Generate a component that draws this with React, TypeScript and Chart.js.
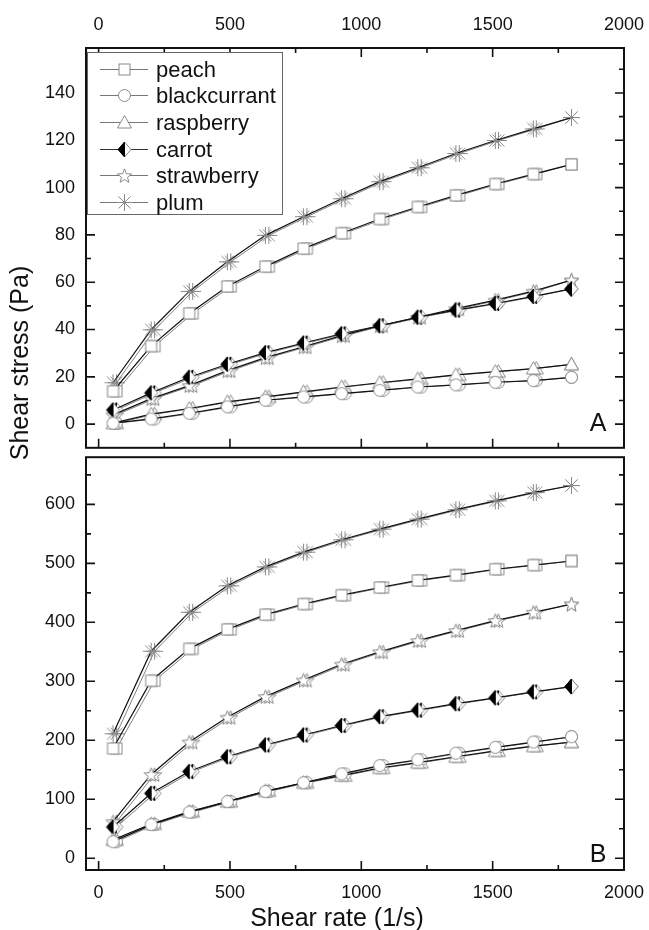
import React, { useEffect, useRef } from 'react';
import { Chart, registerables } from 'chart.js';

Chart.register(...registerables);

const FONT = "'Liberation Sans', Arial, Helvetica, sans-serif";

// Shear rate (1/s): first run and the slightly shifted replicate run
const shearRate = [55, 200, 345, 490, 635, 780, 925, 1070, 1215, 1360, 1510, 1655, 1800];
const shearRateRep = [68, 213, 358, 503, 648, 793, 938, 1083, 1228, 1373, 1522, 1666, 1800];
const seriesNames = ['peach', 'blackcurrant', 'raspberry', 'carrot', 'strawberry', 'plum'];

// Panel A – shear stress (Pa)
const peachA = [13.9, 33.0, 46.8, 58.2, 66.6, 74.2, 80.7, 86.7, 91.8, 96.7, 101.5, 105.7, 109.8];
const blackcurrantA = [0.4, 2.2, 4.6, 7.3, 10.1, 11.5, 12.9, 14.3, 15.7, 16.6, 17.7, 18.4, 19.8];
const raspberryA = [0.4, 4.2, 6.6, 9.4, 11.5, 13.6, 15.7, 17.5, 19.1, 20.8, 22.2, 23.5, 25.3];
const carrotA = [6.0, 13.2, 19.8, 25.3, 30.2, 34.3, 38.2, 41.6, 45.2, 48.2, 51.0, 54.0, 57.2];
const strawberryA = [3.9, 10.8, 16.3, 22.6, 28.1, 32.7, 37.4, 41.6, 45.2, 48.8, 52.4, 56.2, 60.9];
const plumA = [17.5, 39.9, 56.1, 68.6, 79.8, 87.7, 95.3, 102.5, 108.4, 114.4, 119.9, 124.8, 129.6];

// Panel B – shear stress (Pa)
const peachB = [186, 301, 355, 388, 413, 431, 446, 459, 471, 480, 490, 497, 504];
const blackcurrantB = [28, 57, 78, 96, 113, 128, 143, 157, 167, 178, 188, 197, 206];
const raspberryB = [31, 58, 79, 96, 114, 128, 140, 153, 162, 172, 182, 190, 197];
const carrotB = [53, 110, 147, 172, 192, 209, 225, 240, 251, 262, 272, 282, 291];
const strawberryB = [62, 142, 197, 239, 274, 302, 329, 350, 369, 386, 403, 417, 431];
const plumB = [211, 351, 417, 462, 494, 519, 540, 558, 575, 591, 606, 620, 632];

// Ticks
const xMajorTicks = [0, 500, 1000, 1500, 2000];
const xMinorTicks = [250, 750, 1250, 1750];
const yMajorTicksA = [0, 20, 40, 60, 80, 100, 120, 140];
const yMinorTicksA = [10, 30, 50, 70, 90, 110, 130, 150];
const yMajorTicksB = [0, 100, 200, 300, 400, 500, 600];
const yMinorTicksB = [50, 150, 250, 350, 450, 550, 650];

type Kind = 'square' | 'circle' | 'triangle' | 'halfDiamond' | 'star' | 'asterisk';
const markerKinds: Kind[] = ['square', 'circle', 'triangle', 'halfDiamond', 'star', 'asterisk'];

function makeMarker(kind: Kind): HTMLCanvasElement {
  const size = 21;
  const c = 10.5;
  const cv = document.createElement('canvas');
  cv.width = size;
  cv.height = size;
  const ctx = cv.getContext('2d')!;
  const gray = '#8a8a8a';
  ctx.lineWidth = 1;
  ctx.strokeStyle = gray;
  ctx.fillStyle = '#fff';
  if (kind === 'square') {
    ctx.fillRect(5, 5, 11, 11);
    ctx.strokeRect(5, 5, 11, 11);
  } else if (kind === 'circle') {
    ctx.beginPath();
    ctx.arc(c, c, 6, 0, Math.PI * 2);
    ctx.fill();
    ctx.stroke();
  } else if (kind === 'triangle') {
    ctx.beginPath();
    ctx.moveTo(c, 3.5);
    ctx.lineTo(c + 7, 16);
    ctx.lineTo(c - 7, 16);
    ctx.closePath();
    ctx.fill();
    ctx.stroke();
  } else if (kind === 'halfDiamond') {
    ctx.beginPath();
    ctx.moveTo(c, 3);
    ctx.lineTo(c + 6.5, c);
    ctx.lineTo(c, 18);
    ctx.closePath();
    ctx.fill();
    ctx.stroke();
    ctx.beginPath();
    ctx.moveTo(c, 3);
    ctx.lineTo(c - 6.5, c);
    ctx.lineTo(c, 18);
    ctx.closePath();
    ctx.fillStyle = '#000';
    ctx.strokeStyle = '#000';
    ctx.fill();
    ctx.stroke();
  } else if (kind === 'star') {
    ctx.beginPath();
    for (let k = 0; k < 10; k++) {
      const r = k % 2 === 0 ? 7.5 : 3.2;
      const a = -Math.PI / 2 + (k * Math.PI) / 5;
      const px = c + r * Math.cos(a);
      const py = c + 0.8 + r * Math.sin(a);
      if (k === 0) ctx.moveTo(px, py);
      else ctx.lineTo(px, py);
    }
    ctx.closePath();
    ctx.fill();
    ctx.stroke();
  } else {
    ctx.beginPath();
    for (let k = 0; k < 4; k++) {
      const a = (k * Math.PI) / 4;
      ctx.moveTo(c - 8.5 * Math.cos(a), c - 8.5 * Math.sin(a));
      ctx.lineTo(c + 8.5 * Math.cos(a), c + 8.5 * Math.sin(a));
    }
    ctx.stroke();
  }
  return cv;
}

const framePlugin = {
  id: 'frameTicks',
  afterDatasetsDraw(chart: any, _args: any, opts: any) {
    const { ctx, chartArea } = chart;
    const { left, right, top, bottom } = chartArea;
    const x = chart.scales.x;
    const y = chart.scales.y;
    const major = 9;
    const minor = 5;
    ctx.save();
    ctx.strokeStyle = '#111';
    ctx.lineWidth = 1.6;
    ctx.beginPath();
    const xt = [...xMajorTicks.map((v) => [v, major]), ...xMinorTicks.map((v) => [v, minor])];
    xt.forEach(([v, len]) => {
      const px = x.getPixelForValue(v);
      ctx.moveTo(px, bottom);
      ctx.lineTo(px, bottom - len);
      if (opts.topTicks) {
        ctx.moveTo(px, top);
        ctx.lineTo(px, top + len);
      }
    });
    const yt = [...opts.yMajor.map((v: number) => [v, major]), ...opts.yMinor.map((v: number) => [v, minor])];
    yt.forEach(([v, len]: number[]) => {
      const py = y.getPixelForValue(v);
      ctx.moveTo(left, py);
      ctx.lineTo(left + len, py);
      ctx.moveTo(right, py);
      ctx.lineTo(right - len, py);
    });
    ctx.stroke();
    ctx.lineWidth = 2;
    ctx.strokeRect(left, top, right - left, bottom - top);

    ctx.fillStyle = '#111';
    ctx.font = `25px ${FONT}`;
    ctx.textAlign = 'center';
    ctx.textBaseline = 'middle';
    ctx.fillText(opts.letter, right - opts.letterDx, bottom - opts.letterDy);

    if (opts.legend) {
      const lx = left + 1;
      const ly = top + 4;
      const lw = 195;
      const lh = 162;
      ctx.fillStyle = '#fff';
      ctx.fillRect(lx, ly, lw, lh);
      ctx.strokeStyle = '#666';
      ctx.lineWidth = 1;
      ctx.strokeRect(lx + 0.5, ly + 0.5, lw, lh);
      ctx.font = `22px ${FONT}`;
      ctx.textAlign = 'left';
      chart.data.datasets.slice(0, seriesNames.length).forEach((ds: any, i: number) => {
        const cy = Math.round(ly + 16.5 + i * 26.7) + 0.5;
        ctx.strokeStyle = i === 3 ? '#333' : '#777';
        ctx.beginPath();
        ctx.moveTo(lx + 13, cy);
        ctx.lineTo(lx + 61, cy);
        ctx.stroke();
        const img = ds.pointStyle as HTMLCanvasElement;
        ctx.drawImage(img, Math.round(lx + 37 - img.width / 2), Math.round(cy - img.height / 2));
        ctx.fillStyle = '#111';
        ctx.fillText(ds.label, lx + 69, cy + 1);
      });
    }
    ctx.restore();
  },
};

function buildChart(canvas: HTMLCanvasElement, panel: 'A' | 'B') {
  const isA = panel === 'A';
  const values = isA
    ? [peachA, blackcurrantA, raspberryA, carrotA, strawberryA, plumA]
    : [peachB, blackcurrantB, raspberryB, carrotB, strawberryB, plumB];
  const markers = markerKinds.map((k) => makeMarker(k));
  const run1 = seriesNames.map((name, i) => ({
    label: name,
    data: shearRate.map((xv, j) => ({ x: xv, y: values[i][j] })),
    borderColor: '#111',
    borderWidth: 1.2,
    backgroundColor: '#fff',
    pointStyle: markers[i],
    pointRadius: 6,
    pointHoverRadius: 6,
    tension: 0,
    fill: false,
    order: 0,
  }));
  const run2 = seriesNames.map((name, i) => ({
    label: name + ' (repeat)',
    data: shearRateRep.map((xv, j) => ({ x: xv, y: values[i][j] })),
    borderColor: '#808080',
    borderWidth: 1,
    backgroundColor: '#fff',
    pointStyle: markers[i],
    pointRadius: 6,
    pointHoverRadius: 6,
    tension: 0,
    fill: false,
    order: 1,
  }));
  const tickFont = { size: 18, family: FONT };
  return new Chart(canvas, {
    type: 'line',
    data: { datasets: [...run1, ...run2] } as any,
    options: {
      animation: false,
      responsive: false,
      maintainAspectRatio: false,
      events: [],
      layout: { padding: { left: 0, right: 25, top: isA ? 0 : 3, bottom: isA ? 2 : 0 } },
      plugins: {
        legend: { display: false },
        tooltip: { enabled: false },
        frameTicks: {
          topTicks: isA,
          yMajor: isA ? yMajorTicksA : yMajorTicksB,
          yMinor: isA ? yMinorTicksA : yMinorTicksB,
          letter: panel,
          letterDx: 26,
          letterDy: isA ? 24 : 15,
          legend: isA,
        },
      } as any,
      scales: {
        x: {
          type: 'linear',
          position: isA ? 'top' : 'bottom',
          min: -48,
          max: 2000,
          grid: { display: false, drawTicks: false },
          border: { display: false },
          afterBuildTicks: (s: any) => {
            s.ticks = xMajorTicks.map((v) => ({ value: v }));
          },
          afterFit: (s: any) => {
            s.height = isA ? 48 : 60;
            s.paddingLeft = 0;
            s.paddingRight = 0;
            s.paddingTop = 0;
            s.paddingBottom = 0;
          },
          ticks: {
            padding: 12,
            font: tickFont,
            color: '#111',
            maxRotation: 0,
            autoSkip: false,
            callback: (v: any) => String(v),
          },
        },
        y: {
          type: 'linear',
          min: isA ? -10 : -20,
          max: isA ? 159 : 680,
          grid: { display: false, drawTicks: false },
          border: { display: false },
          afterBuildTicks: (s: any) => {
            s.ticks = (isA ? yMajorTicksA : yMajorTicksB).map((v) => ({ value: v }));
          },
          afterFit: (s: any) => {
            s.width = 86;
            s.paddingLeft = 0;
            s.paddingRight = 0;
            s.paddingTop = 0;
            s.paddingBottom = 0;
          },
          ticks: {
            padding: 11,
            font: tickFont,
            color: '#111',
            autoSkip: false,
            callback: (v: any) => String(v),
          },
        },
      },
    } as any,
    plugins: [framePlugin],
  });
}

export default function App() {
  const refA = useRef<HTMLCanvasElement>(null);
  const refB = useRef<HTMLCanvasElement>(null);
  useEffect(() => {
    const a = buildChart(refA.current!, 'A');
    const b = buildChart(refB.current!, 'B');
    return () => {
      a.destroy();
      b.destroy();
    };
  }, []);
  const titleStyle: React.CSSProperties = {
    position: 'absolute',
    fontFamily: FONT,
    fontSize: 25,
    lineHeight: '30px',
    color: '#111',
    whiteSpace: 'nowrap',
    textAlign: 'center',
  };
  return (
    <div style={{ position: 'absolute', left: 0, top: 0, width: 649, height: 930, background: '#fff', overflow: 'hidden' }}>
      <canvas ref={refA} width={649} height={455} style={{ position: 'absolute', left: 0, top: 0, width: 649, height: 455 }} />
      <canvas ref={refB} width={649} height={480} style={{ position: 'absolute', left: 0, top: 450, width: 649, height: 480 }} />
      <div style={{ ...titleStyle, left: 137, top: 902, width: 400 }}>Shear rate (1/s)</div>
      <div
        style={{
          ...titleStyle,
          left: 19 - 150,
          top: 363 - 15,
          width: 300,
          transform: 'rotate(-90deg)',
        }}
      >
        Shear stress (Pa)
      </div>
    </div>
  );
}
